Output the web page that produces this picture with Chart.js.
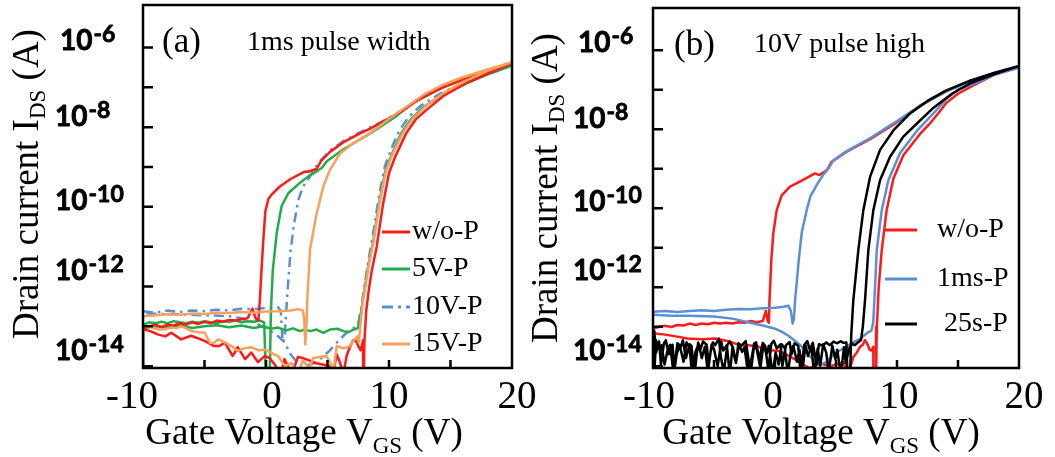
<!DOCTYPE html>
<html>
<head>
<meta charset="utf-8">
<title>Transfer curves</title>
<script src="https://cdn.jsdelivr.net/npm/chart.js@4.4.0/dist/chart.umd.min.js"></script>
<style>
  body { margin: 0; background: #fff; }
  #wrap { position: relative; width: 1055px; height: 457px; overflow: hidden; }
  canvas { position: absolute; top: 0; }
  #panelA { left: 0; }
  #panelB { left: 525px; }
</style>
</head>
<body>
<div id="wrap">
  <canvas id="panelA" width="560" height="457"></canvas>
  <canvas id="panelB" width="530" height="457"></canvas>
</div>
<script>
// ---- axis labels ----
const xTickValues = [-10, 0, 10, 20];
const yTickPowers = [-6, -8, -10, -12, -14];
const legendA = ['w/o-P', '5V-P', '10V-P', '15V-P'];
const legendB = ['w/o-P', '1ms-P', ' 25s-P'];

// ---- (a) 1ms pulse width: sweep -10 -> 20 -> -10 V, current in A ----
const aRedV = [
  -10, -9.5, -9, -8.5, -8, -7.5, -7, -6.5, -6, -5.5, -5, -4.5, -4, -3.5, -3, -2.5, -2, -1.5, -1.1, -0.85, -0.62,
  -0.5, -0.35, -0.2, -0.05, 0.2, 0.5, 1.1, 2.0, 3.1, 3.4, 4.1, 4.5, 5.2, 6.3, 7.5, 8.5, 10, 11, 12.3, 14, 16, 18, 20,
  18, 16.3, 14.5, 13.1, 12.2, 11.4, 10.5, 10.0, 9.5, 9.0, 8.6, 8.35, 8.15, 8.0, 7.95,
  7.9, 7.7, 7.5, 7.3, 7.1, 6.85, 6.55, 6.3, 6.0, 5.75,
  5.45, 5.2, 4.6, 4.0, 3.5, 3.0, 2.6, 2.1, 1.5, 1.2,
  0.7, 0.3, -0.1, -0.65, -1.2, -1.7, -2.3, -2.7, -3.35, -3.8,
  -4.2, -5.0, -5.5, -6.1, -6.9, -7.7, -8.2, -8.8, -9.4, -10
];
const aRedI = [
  8.9e-14, 1.0e-13, 1.1e-13, 9.5e-14, 1.1e-13, 1.05e-13, 1.2e-13, 1.1e-13, 1.26e-13, 1.15e-13, 1.3e-13, 1.2e-13, 1.4e-13, 1.3e-13, 1.45e-13, 1.4e-13, 1.5e-13, 1.6e-13, 2.8e-13, 1.6e-13, 1.4e-13,
  4.5e-13, 3.2e-12, 1.8e-11, 7.9e-11, 1.6e-10, 2.1e-10, 3.2e-10, 5.0e-10, 7.6e-10, 7.6e-10, 8.9e-10, 1.45e-9, 2.4e-9, 4.2e-9, 6.6e-9, 9.3e-9, 1.66e-8, 2.5e-8, 4.7e-8, 8.9e-8, 1.6e-7, 2.6e-7, 4.0e-7,
  2.2e-7, 1.3e-7, 6.3e-8, 2.8e-8, 1.6e-8, 7.1e-9, 1.8e-9, 7.1e-10, 1.1e-10, 1.0e-11, 2.5e-12, 7.9e-13, 2.5e-13, 4.0e-14, 5e-15,
  4.5e-14, 2.5e-14, 3.2e-14, 4.5e-14, 4.5e-14, 3.2e-14, 1.8e-14, 6.3e-15, 1.26e-14, 2.0e-14,
  6.3e-15, 1.0e-14, 1.1e-14, 1.2e-14, 1.4e-14, 1.6e-14, 1.7e-14, 6.3e-15, 1.5e-14, 6.3e-15,
  1.1e-14, 1.6e-14, 1.8e-14, 1.26e-14, 2.2e-14, 1.5e-14, 3.0e-14, 1.8e-14, 3.9e-14, 3.2e-14,
  3.2e-14, 4.3e-14, 5.0e-14, 5.8e-14, 4.7e-14, 6.9e-14, 5.6e-14, 6.3e-14, 7.6e-14, 8.5e-14
];

const aGreenV = [
  -10, -9.97, -9.5, -9, -8.5, -8, -7.5, -7, -6.5, -6, -5.5, -5, -4.5, -4, -3.5, -3, -2.5, -2, -1.5, -1, -0.5, -0.15,
  0.0, 0.3, 0.4, 0.55, 0.87, 1.27, 1.81, 2.76, 3.5, 4.12, 4.53, 4.94, 6.3, 8.5, 10.5, 12, 14.4, 17, 20,
  18, 16.3, 14.3, 12.8, 11.8, 11.0, 10.2, 9.7, 9.2, 8.7, 8.3, 8.05, 7.8, 7.6,
  7.45, 7.1, 6.7, 6.3, 5.8, 5.2, 4.66, 4.12, 3.6, 3.15, 2.76, 2.2, 1.6, 1.0, 0.4, -0.2, -1, -2, -3, -4, -5, -6, -7, -8, -9, -10
];
const aGreenI = [
  5e-15, 1.1e-13, 1.26e-13, 1.2e-13, 1.3e-13, 1.2e-13, 1.35e-13, 1.26e-13, 1.2e-13, 1.3e-13, 1.23e-13, 1.35e-13, 1.26e-13, 1.2e-13, 1.35e-13, 1.3e-13, 1.4e-13, 1.26e-13, 1.35e-13, 1.3e-13, 1.4e-13, 1.26e-13,
  5e-15, 5e-15, 2.5e-13, 2.5e-12, 2.2e-11, 1.05e-10, 2.2e-10, 4.0e-10, 6.0e-10, 7.8e-10, 9.5e-10, 1.4e-9, 2.8e-9, 7.1e-9, 1.8e-8, 4.2e-8, 1.0e-7, 2.0e-7, 3.5e-7,
  2.1e-7, 1.26e-7, 6.3e-8, 3.2e-8, 1.6e-8, 7.1e-9, 2.0e-9, 7.9e-10, 1.26e-10, 1.26e-11, 3.2e-12, 1.0e-12, 3.2e-13, 1.26e-13,
  8.9e-14, 8.3e-14, 7.1e-14, 7.6e-14, 8.7e-14, 8.3e-14, 6.9e-14, 8.3e-14, 7.6e-14, 8.3e-14, 7.6e-14, 8.9e-14, 7.9e-14, 9.3e-14, 8.7e-14, 1.0e-13, 9.1e-14, 1.05e-13, 9.5e-14, 1.07e-13, 1.0e-13, 9.1e-14, 1.05e-13, 9.5e-14, 1.0e-13, 8.9e-14
];

const aBlueV = [
  -10, -9, -8, -7, -6, -5, -4, -3, -2, -1, 0, 1.0, 1.2,
  1.35, 1.5, 1.65, 1.8, 2.0, 2.25, 2.6, 3.0, 3.44, 4.25, 5.2, 6.3, 7.5, 8.5, 10, 11, 12.3, 14, 16, 18, 20,
  18, 16.3, 14.2, 12.6, 11.6, 10.8, 10.1, 9.65, 9.2, 8.75, 8.35, 8.1, 7.9, 7.7, 7.45,
  6.8, 6.0, 5.5, 5.2, 4.6, 4.1, 3.6, 3.0, 2.5, 2.0, 1.5, 1.0, 0.5, 0.0, -1, -2, -3, -5, -7, -10
];
const aBlueI = [
  2.4e-13, 2.2e-13, 2.5e-13, 2.3e-13, 2.5e-13, 2.4e-13, 2.6e-13, 2.5e-13, 2.75e-13, 2.7e-13, 2.9e-13, 3.0e-13, 2.4e-13,
  4.0e-14, 5.0e-14, 2.5e-13, 1.26e-12, 7.9e-12, 3.2e-11, 1.4e-10, 3.2e-10, 5.0e-10, 1.26e-9, 2.6e-9, 4.5e-9, 7.1e-9, 1.0e-8, 1.7e-8, 2.6e-8, 4.8e-8, 9.1e-8, 1.6e-7, 2.6e-7, 4.0e-7,
  2.3e-7, 1.4e-7, 7.1e-8, 3.5e-8, 1.8e-8, 7.9e-9, 2.5e-9, 1.0e-9, 2.0e-10, 2.5e-11, 5.0e-12, 1.6e-12, 6.3e-13, 2.5e-13, 1.0e-13,
  8.3e-14, 4.7e-14, 3.2e-14, 2.5e-14, 1.7e-14, 1.26e-14, 1.1e-14, 1.0e-14, 1.26e-14, 2.0e-14, 4.0e-14, 5.6e-14, 7.1e-14, 8.9e-14, 1.26e-13, 1.6e-13, 1.8e-13, 1.9e-13, 2.0e-13, 2.1e-13
];

const aOrangeV = [
  -10, -9, -8, -7, -6, -5, -4, -3, -2, -1, 0, 1, 2, 2.6, 3.0,
  3.1, 3.2, 3.3, 3.36, 3.58, 4.07, 4.66, 5.2, 6.02, 7.1, 8.46, 10, 11.44, 13, 14.5, 16, 18, 20,
  18, 16.3, 14.4, 12.9, 11.9, 11.1, 10.25, 9.75, 9.25, 8.75, 8.35, 8.1, 7.85, 7.7, 7.55,
  7.5, 7.1, 6.8, 6.3, 5.75, 5.5, 5.2, 4.9, 4.4, 3.85,
  3.5, 3.0, 2.6, 2.06, 1.52, 0.98, 0.4, -0.1, -0.6, -1.2,
  -1.8, -2.3, -2.8, -3.4, -3.9, -4.25, -4.57, -4.98, -5.5, -6.07,
  -6.5, -6.88, -7.3, -7.7, -8.2, -8.78, -9.3, -10
];
const aOrangeI = [
  1.8e-13, 1.9e-13, 2.0e-13, 1.95e-13, 2.1e-13, 2.05e-13, 2.2e-13, 2.15e-13, 2.3e-13, 2.2e-13, 2.35e-13, 2.4e-13, 2.5e-13, 2.7e-13, 2.5e-13,
  1.6e-13, 3.5e-14, 1.26e-13, 4.7e-13, 8.5e-12, 5.8e-11, 3.3e-10, 8.5e-10, 2.2e-9, 4.0e-9, 7.1e-9, 1.6e-8, 3.3e-8, 7.1e-8, 1.2e-7, 1.8e-7, 2.8e-7, 4.3e-7,
  2.6e-7, 1.5e-7, 7.1e-8, 3.2e-8, 1.6e-8, 7.1e-9, 2.0e-9, 7.9e-10, 1.4e-10, 1.4e-11, 3.5e-12, 1.1e-12, 4.0e-13, 1.26e-13, 4.0e-14,
  5.8e-14, 4.3e-14, 3.2e-14, 2.8e-14, 3.2e-14, 8e-15, 1.26e-14, 1.8e-14, 1.7e-14, 1.6e-14,
  8.9e-15, 1.4e-14, 6.3e-15, 1.2e-14, 1.0e-14, 1.8e-14, 2.2e-14, 2.6e-14, 2.5e-14, 3.0e-14,
  2.8e-14, 2.4e-14, 3.2e-14, 4.0e-14, 4.7e-14, 3.8e-14, 3.9e-14, 6.9e-14, 7.1e-14, 7.6e-14,
  8.9e-14, 1.0e-13, 8.9e-14, 9.3e-14, 8.5e-14, 8.3e-14, 9.5e-14, 1.0e-13
];

// ---- (b) 10V pulse high ----
const bRedV = [
  -10, -9.5, -9, -8.5, -8, -7.5, -7, -6.5, -6, -5.5, -5, -4.5, -4, -3.5, -3, -2.5, -2, -1.5, -1.0, -0.75, -0.6, -0.5,
  -0.45, -0.3, -0.14, 0.14, 0.55, 1.23, 2.2, 3.28, 3.63, 4.24, 4.65, 5.88, 7.79, 9.7, 11.89, 14, 16, 18, 20,
  18, 16.5, 15, 14, 13.5, 12.7, 11.89, 10.52, 9.7, 9.15, 8.75, 8.5, 8.35, 8.28,
  8.1, 8.06, 7.9, 7.75, 7.6, 7.38, 7.2, 6.97, 6.7, 6.42,
  6.0, 5.6, 5.0, 4.5, 4.0, 3.69, 3.25, 2.8, 2.3, 1.8,
  1.3, 0.9, 0.4, -0.1, -0.85, -1.4, -2.2, -2.9, -3.7, -4.9,
  -6, -7.2, -8, -9, -10
];
const bRedI = [
  8.9e-14, 1.0e-13, 1.05e-13, 9.8e-14, 1.1e-13, 1.07e-13, 1.2e-13, 1.1e-13, 1.2e-13, 1.15e-13, 1.26e-13, 1.2e-13, 1.26e-13, 1.2e-13, 1.3e-13, 1.26e-13, 1.4e-13, 1.3e-13, 1.4e-13, 2.5e-13, 1.4e-13, 1.26e-13,
  4.7e-13, 5.0e-12, 2.3e-11, 8.9e-11, 2.1e-10, 3.5e-10, 5.0e-10, 7.6e-10, 6.9e-10, 9.1e-10, 1.5e-9, 2.7e-9, 5.6e-9, 1.3e-8, 3.9e-8, 8.9e-8, 1.7e-7, 2.6e-7, 3.8e-7,
  2.4e-7, 1.4e-7, 7.9e-8, 4.5e-8, 2.8e-8, 1.4e-8, 7.6e-9, 2.2e-9, 5.6e-10, 8.9e-11, 8.7e-12, 1.0e-12, 1.0e-13, 5e-15,
  5e-15, 3.1e-14, 2.5e-14, 2.6e-14, 3.5e-14, 4.6e-14, 3.5e-14, 3.1e-14, 2.2e-14, 1.7e-14,
  6.3e-15, 1.26e-14, 1.1e-14, 1.0e-14, 1.1e-14, 1.2e-14, 1.0e-14, 8.9e-15, 1.1e-14, 1.4e-14,
  1.7e-14, 2.0e-14, 2.4e-14, 2.5e-14, 2.6e-14, 3.2e-14, 3.4e-14, 3.4e-14, 4.2e-14, 5.0e-14,
  4.8e-14, 5.0e-14, 5.6e-14, 6.3e-14, 6.8e-14
];

const bBlueV = [
  -10, -9, -8, -7, -6, -5, -4, -3, -2, -1, 0, 0.7, 1.1,
  1.3, 1.45, 1.55, 1.65, 1.77, 1.95, 2.2, 2.6, 2.9, 3.45, 3.96, 4.37, 4.78, 5.88, 7.79, 9.7, 11.89, 14, 16, 18, 20,
  18, 16.5, 15, 14, 12.98, 11.61, 10.25, 9.29, 8.75, 8.34, 8.2, 8.05, 7.9,
  7.6, 7.0, 6.4, 5.9, 5.3, 4.7, 4.2, 3.7, 3.2, 2.7, 2.16, 1.6, 1.07, 0.5, 0, -1, -2.2, -3.5, -5, -7, -8.5, -10
];
const bBlueI = [
  2.4e-13, 2.5e-13, 2.35e-13, 2.5e-13, 2.6e-13, 2.5e-13, 2.7e-13, 2.8e-13, 2.75e-13, 2.95e-13, 3.0e-13, 3.2e-13, 3.4e-13,
  2.5e-13, 1.2e-13, 1.6e-13, 5.0e-13, 1.2e-12, 5.0e-12, 2.5e-11, 8.9e-11, 2.0e-10, 4.0e-10, 7.1e-10, 1.0e-9, 1.6e-9, 2.8e-9, 5.9e-9, 1.4e-8, 4.0e-8, 8.9e-8, 1.6e-7, 2.5e-7, 3.6e-7,
  2.4e-7, 1.5e-7, 1.0e-7, 5.6e-8, 2.5e-8, 8.9e-9, 2.5e-9, 5.1e-10, 8.9e-11, 8.7e-12, 1.0e-12, 1.26e-13, 7.9e-14,
  7.1e-14, 5.0e-14, 4.0e-14, 3.2e-14, 2.5e-14, 1.8e-14, 1.26e-14, 1.1e-14, 1.4e-14, 2.0e-14, 3.2e-14, 4.5e-14, 6.0e-14, 7.6e-14, 8.9e-14, 1.07e-13, 1.3e-13, 1.6e-13, 1.8e-13, 1.9e-13, 1.9e-13, 2.0e-13
];

const bBlackV = [
  -10, -9.9, -9.75, -9.5, -9.35, -9.1, -8.95, -8.7, -8.4, -8.25,
  -8.0, -7.7, -7.55, -7.3, -7.0, -6.85, -6.6, -6.3, -6.15, -5.9,
  -5.6, -5.45, -5.1, -4.9, -4.6, -4.45, -4.2, -3.9, -3.7, -3.45,
  -3.2, -3.0, -2.75, -2.4, -2.25, -2.0, -1.7, -1.55, -1.3, -1.0,
  -0.8, -0.55, -0.3, -0.1, 0.15, 0.45, 0.6, 0.9, 1.2, 1.35,
  1.6, 1.9, 2.1, 2.4, 2.65, 2.85, 3.1, 3.4, 3.6, 3.9,
  4.2, 4.5, 4.8, 5.1, 5.4, 5.6, 5.85,
  5.95, 6.15, 6.25, 6.42, 6.83, 7.24, 7.79, 8.61, 9.7, 11.07, 12.5, 14, 16, 18, 20,
  18, 16, 14.5, 13, 11.89, 10.52, 9.43, 8.61, 8.06, 7.65, 7.38, 7.2, 7.05,
  6.8, 6.55, 6.3, 6.1, 5.8, 5.65, 5.4, 5.1, 4.95, 4.7,
  4.4, 4.2, 3.95, 3.7, 3.5, 3.2, 3.0, 2.7, 2.5, 2.25,
  2.0, 1.8, 1.5, 1.3, 1.05, 0.8, 0.55, 0.3, 0.05, -0.2,
  -0.5, -0.7, -0.95, -1.2, -1.5, -1.7, -1.95, -2.2, -2.5, -2.7,
  -2.95, -3.2, -3.5, -3.7, -3.95, -4.25, -4.4, -4.7, -5.0, -5.2,
  -5.5, -5.75, -6.0, -6.25, -6.5, -6.8, -7.0, -7.25, -7.5, -7.8,
  -8.05, -8.3, -8.6, -8.8, -9.05, -9.3, -9.55, -9.75, -9.9, -10
];
const bBlackI = [
  5e-15, 7.9e-14, 2.2e-14, 4.2e-14, 1.1e-14, 3.8e-14, 4.5e-14, 2.0e-14, 3.5e-14, 9e-15,
  3.8e-14, 3.2e-14, 4.5e-14, 1.6e-14, 3.6e-14, 3.3e-14, 6.3e-15, 4.0e-14, 2.5e-14, 4.2e-14,
  3.5e-14, 1.3e-14, 4.0e-14, 3.4e-14, 5.0e-14, 1.8e-14, 7e-15, 3.5e-14, 4.2e-14, 3.0e-14,
  1.2e-14, 3.8e-14, 3.3e-14, 4.3e-14, 2.2e-14, 6.3e-15, 3.6e-14, 4.0e-14, 1.5e-14, 3.9e-14,
  3.2e-14, 8e-15, 3.7e-14, 4.4e-14, 2.8e-14, 3.6e-14, 1.0e-14, 3.4e-14, 4.1e-14, 2.0e-14,
  3.8e-14, 3.3e-14, 6.3e-15, 3.5e-14, 4.3e-14, 2.6e-14, 3.9e-14, 1.1e-14, 3.6e-14, 3.3e-14,
  4.0e-14, 3.4e-14, 4.2e-14, 3.8e-14, 4.3e-14, 3.9e-14, 4.0e-14,
  5e-15, 5e-15, 6.3e-14, 4.7e-13, 8.7e-12, 8.9e-11, 6.2e-10, 3.0e-9, 9.3e-9, 2.5e-8, 5.2e-8, 9.5e-8, 1.7e-7, 2.7e-7, 4.0e-7,
  2.5e-7, 1.45e-7, 7.9e-8, 3.5e-8, 1.66e-8, 6.5e-9, 2.0e-9, 5.1e-10, 8.9e-11, 8.7e-12, 4.7e-13, 1.0e-13, 4.6e-14,
  4.0e-14, 3.4e-14, 3.7e-14, 2.9e-14, 1.2e-14, 3.0e-14, 6e-15, 2.6e-14, 1.5e-14, 3.3e-14,
  7e-15, 2.2e-14, 3.6e-14, 1.0e-14, 2.8e-14, 6e-15, 3.1e-14, 1.8e-14, 3.4e-14, 8e-15,
  2.6e-14, 1.3e-14, 3.3e-14, 2.4e-14, 6.3e-15, 2.9e-14, 3.6e-14, 1.1e-14, 2.2e-14, 6e-15,
  3.3e-14, 2.0e-14, 3.5e-14, 9e-15, 2.7e-14, 3.8e-14, 1.4e-14, 6.3e-15, 3.0e-14, 2.3e-14,
  3.6e-14, 1.2e-14, 2.8e-14, 6e-15, 3.4e-14, 2.5e-14, 4.1e-14, 1.0e-14, 2.7e-14, 3.5e-14,
  7e-15, 3.1e-14, 1.6e-14, 3.7e-14, 2.4e-14, 6.3e-15, 2.9e-14, 4.0e-14, 1.3e-14, 3.3e-14,
  2.1e-14, 6e-15, 3.5e-14, 2.6e-14, 1.1e-14, 3.4e-14, 2.8e-14, 4.5e-14, 6e-15, 3.0e-14
];

// ---- drawing helpers ----
const SERIF = '"Liberation Serif", "Times New Roman", serif';
const SANS = 'Lato, "Open Sans", sans-serif';
const yLabelNudge = [[5, -8], [0, -11], [0, -7], [0, -17], [0, -16]];

function points(vs, is) {
  return vs.map((v, i) => ({ x: v, y: is[i] }));
}

function series(label, vs, is, color, order, dash) {
  return {
    label,
    data: points(vs, is),
    borderColor: color,
    borderWidth: 2.5,
    borderDash: dash || [],
    borderJoinStyle: 'round',
    pointRadius: 0,
    showLine: true,
    tension: 0,
    clip: 0,
    order
  };
}

function richWidth(ctx, parts) {
  let w = 0;
  parts.forEach(p => { ctx.font = p.size + 'px ' + SERIF; w += ctx.measureText(p.t).width; });
  return w;
}

function drawRich(ctx, parts, x, y) {
  let cx = x;
  parts.forEach(p => {
    ctx.font = p.size + 'px ' + SERIF;
    ctx.fillText(p.t, cx, y + (p.dy || 0));
    cx += ctx.measureText(p.t).width;
  });
}

// heavier bold text: fill plus a thin outline of the same colour
function boldText(ctx, t, x, y) {
  ctx.fillText(t, x, y);
  ctx.strokeText(t, x, y);
}

const xTitle = [{ t: 'Gate Voltage V', size: 37 }, { t: 'GS', size: 23, dy: 9 }, { t: ' (V)', size: 37 }];
const yTitle = [{ t: 'Drain current I', size: 37 }, { t: 'DS', size: 23, dy: 7 }, { t: ' (A)', size: 37 }];

// frame, inward ticks, tick labels, titles and the in-plot legend
function decor(cfg) {
  return {
    id: 'decor',
    afterDatasetsDraw(chart) {
      const { ctx, chartArea: a, scales: { x, y } } = chart;
      ctx.save();
      ctx.strokeStyle = '#000';
      ctx.fillStyle = '#000';
      ctx.lineWidth = 2.5;
      ctx.setLineDash([]);
      ctx.strokeRect(a.left, a.top, a.right - a.left, a.bottom - a.top);

      ctx.beginPath();
      for (let p = -14; p <= -6; p++) {
        const py = y.getPixelForValue(Math.pow(10, p));
        ctx.moveTo(a.left, py);
        ctx.lineTo(a.left + 10, py);
      }
      for (let v = -5; v <= 15; v += 5) {
        const px = x.getPixelForValue(v);
        ctx.moveTo(px, a.bottom);
        ctx.lineTo(px, a.bottom - 8);
      }
      ctx.stroke();

      // y tick labels: bold 10 with superscript exponent
      ctx.textAlign = 'left';
      ctx.textBaseline = 'alphabetic';
      ctx.lineWidth = 0.8;
      ctx.lineJoin = 'round';
      yTickPowers.forEach((p, i) => {
        const cy = y.getPixelForValue(Math.pow(10, p)) + yLabelNudge[i][1];
        const lx = cfg.yLabelX + yLabelNudge[i][0];
        ctx.font = 'bold 28px ' + SANS;
        boldText(ctx, '10', lx, cy + 10);
        const w = ctx.measureText('10').width;
        ctx.font = 'bold 23px ' + SANS;
        boldText(ctx, String(p), lx + w + 1, cy + 2);
      });

      // x tick labels
      ctx.textAlign = 'center';
      ctx.font = '39px ' + SERIF;
      xTickValues.forEach((v, i) => {
        ctx.fillText(String(v), x.getPixelForValue(v) + cfg.xNudge[i], 408);
      });

      // axis titles
      ctx.textAlign = 'left';
      const xw = richWidth(ctx, xTitle);
      drawRich(ctx, xTitle, cfg.xTitleCenter - xw / 2, 444);
      const yw = richWidth(ctx, yTitle);
      ctx.save();
      ctx.translate(cfg.yTitleX, cfg.yTitleCenter);
      ctx.rotate(-Math.PI / 2);
      drawRich(ctx, yTitle, -yw / 2, 0);
      ctx.restore();

      // panel letter and condition
      ctx.font = '35px ' + SERIF;
      ctx.fillText(cfg.letter, cfg.letterX, cfg.letterY);
      ctx.font = '28px ' + SERIF;
      ctx.fillText(cfg.note, cfg.noteX, cfg.noteY);

      // legend
      cfg.legendRows.forEach((ry, i) => {
        const ds = chart.data.datasets[i];
        ctx.strokeStyle = ds.borderColor;
        ctx.lineWidth = 3;
        ctx.setLineDash(ds.borderDash.length ? [11, 5, 3, 5] : []);
        ctx.beginPath();
        ctx.moveTo(cfg.legendLine[0], ry + 2);
        ctx.lineTo(cfg.legendLine[1], ry + 2);
        ctx.stroke();
        ctx.setLineDash([]);
        ctx.font = '28px ' + SERIF;
        ctx.fillText(ds.label, cfg.legendTextX, ry + 9);
      });
      ctx.restore();
    }
  };
}

function makeChart(id, datasets, pad, cfg) {
  return new Chart(document.getElementById(id), {
    type: 'scatter',
    data: { datasets },
    options: {
      responsive: false,
      animation: false,
      events: [],
      layout: { padding: pad },
      plugins: { legend: { display: false }, tooltip: { enabled: false }, title: { display: false } },
      scales: {
        x: {
          type: 'linear', min: -10, max: 20,
          grid: { display: false }, border: { display: false }, ticks: { display: false },
          afterFit: s => { s.height = 0; }
        },
        y: {
          type: 'logarithmic', min: 9.1e-15, max: 1.17e-5,
          grid: { display: false }, border: { display: false }, ticks: { display: false },
          afterFit: s => { s.width = 0; }
        }
      }
    },
    plugins: [decor(cfg)]
  });
}

makeChart('panelA', [
  series(legendA[0], aRedV, aRedI, '#ff1a1a', 2),
  series(legendA[1], aGreenV, aGreenI, '#1fae4b', 3),
  series(legendA[2], aBlueV, aBlueI, '#5b8fd4', 4, [10, 5, 2.5, 5]),
  series(legendA[3], aOrangeV, aOrangeI, '#f7a15c', 1)
], { left: 143, top: 5, right: 48, bottom: 89 }, {
  yLabelX: 55, xNudge: [-11, 6, 0, 5],
  xTitleCenter: 304, yTitleX: 38, yTitleCenter: 184,
  letter: '(a)', letterX: 162, letterY: 52,
  note: '1ms pulse width', noteX: 247, noteY: 50,
  legendRows: [230, 267, 305, 342], legendLine: [382, 410], legendTextX: 412
});

makeChart('panelB', [
  series(legendB[0], bRedV, bRedI, '#ff1a1a', 3),
  series(legendB[1], bBlueV, bBlueI, '#5b8fd4', 2),
  series(legendB[2], bBlackV, bBlackI, '#000000', 1)
], { left: 128, top: 8, right: 36, bottom: 89 }, {
  yLabelX: 48, xNudge: [-4, -2, 2, 5],
  xTitleCenter: 296, yTitleX: 32, yTitleCenter: 188,
  letter: '(b)', letterX: 149, letterY: 55,
  note: '10V pulse high', noteX: 229, noteY: 52,
  legendRows: [228, 277, 322], legendLine: [360, 392], legendTextX: 412
});
</script>
</body>
</html>
